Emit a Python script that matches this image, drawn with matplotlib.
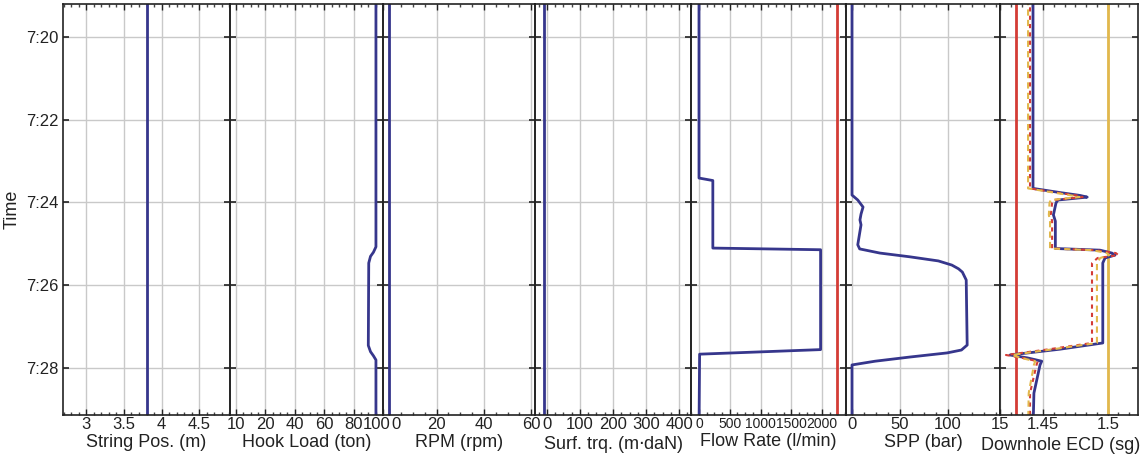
import numpy as np
import matplotlib
matplotlib.use("Agg")
import matplotlib.pyplot as plt
import matplotlib.transforms as mtransforms
from matplotlib.ticker import AutoMinorLocator, FixedLocator

plt.rcParams['font.family'] = ['Liberation Sans', 'DejaVu Sans']

# ---- data (time in minutes after 7:00) ----
t_const = [19.0, 29.5]
string_pos = [3.8, 3.8]
rpm = [0.0, 0.0]
surf_trq = [-8.0, -8.0]

t_hook = [19.0, 25.07, 25.20, 25.30, 25.46, 27.45, 27.60, 27.70, 27.80, 29.5]
hook_load = [95.2, 95.2, 93.5, 91.5, 90.3, 90.0, 91.5, 93.5, 95.2, 95.2]

t_flow = [19.0, 23.41, 23.47, 25.10, 25.14, 27.55, 27.66, 29.5]
flow = [0, 0, 225, 225, 1977, 1977, 10, 0]
flow_limit = 2240

t_spp = [19.0, 23.82, 23.94, 24.11, 24.28, 24.42, 24.54, 25.02, 25.12, 25.22,
         25.31, 25.41, 25.51, 25.60, 25.68, 25.87, 27.44, 27.56, 27.63, 27.73,
         27.83, 27.92, 29.5]
spp = [0, 0, 6, 11.5, 9.4, 8.3, 9.4, 6, 8, 29,
       60, 90, 104, 111, 115, 119, 120, 114, 99, 60,
       24, 0, 0]

t_ecd = [19.0, 23.66, 23.76, 23.83, 23.87, 23.94, 24.01, 24.3, 24.45, 25.11,
         25.15, 25.22, 25.27, 25.34, 25.46, 27.39, 27.54, 27.68, 27.75, 27.83,
         27.92, 28.60, 29.5]
ecd_meas = [1.4423, 1.4423, 1.463, 1.4785, 1.484, 1.4615, 1.460, 1.458, 1.4595, 1.4595,
            1.4938, 1.503, 1.5054, 1.4977, 1.496, 1.496, 1.463, 1.4246, 1.438, 1.449,
            1.4477, 1.443, 1.4423]
ecd_model1 = [1.4400, 1.4400, 1.460, 1.476, 1.4805, 1.458, 1.457, 1.456, 1.457, 1.457,
              1.490, 1.506, 1.508, 1.492, 1.4877, 1.4877, 1.455, 1.4215, 1.434, 1.446,
              1.445, 1.440, 1.4400]
ecd_model2 = [1.4385, 1.4385, 1.458, 1.472, 1.478, 1.456, 1.455, 1.4545, 1.4554, 1.4554,
              1.488, 1.499, 1.501, 1.494, 1.4915, 1.4915, 1.458, 1.426, 1.433, 1.444,
              1.443, 1.439, 1.4385]
ecd_low = 1.4292
ecd_high = 1.500

time_ticks = [20, 22, 24, 26, 28]
time_labels = ["7:20", "7:22", "7:24", "7:26", "7:28"]

track_labels = ["String Pos. (m)", "Hook Load (ton)", "RPM (rpm)",
                "Surf. trq. (m$\\cdot$daN)", "Flow Rate (l/min)", "SPP (bar)",
                "Downhole ECD (sg)"]
track_xlim = [(2.69, 4.91), (-4.1, 100.0), (-2.75, 61.65), (-36, 436),
              (-130, 2390), (-6.25, 154.2), (1.4169, 1.5231)]
track_ticks = [[3, 3.5, 4, 4.5], [0, 20, 40, 60, 80, 100], [0, 20, 40, 60],
               [0, 100, 200, 300, 400], [0, 500, 1000, 1500, 2000], [0, 50, 100],
               [1.4169, 1.45, 1.5]]
track_ticklabels = [["3", "3.5", "4", "4.5"], ["10", "20", "40", "60", "80", "100"],
                    ["0", "20", "40", "60"], ["0", "100", "200", "300", "400"],
                    ["0", "500", "1000", "1500", "2000"], ["0", "50", "100"],
                    ["15", "1.45", "1.5"]]
tick_size = [12, 12, 12, 12, 10, 12, 12]

BLUE = "#36368c"
RED = "#d43c36"
YELLOW = "#e2b84c"
GRID = "#c9c9c9"
TXT = "#222222"

W, H = 1144, 459
bounds = [63, 230, 383, 535, 691, 846, 1000, 1138]
top_px, bot_px = 4, 415

fig = plt.figure(figsize=(W / 100, H / 100), dpi=100)
axes = []
for i in range(7):
    x0, x1 = bounds[i], bounds[i + 1]
    ax = fig.add_axes([x0 / W, 1 - bot_px / H, (x1 - x0) / W, (bot_px - top_px) / H])
    ax.set_xlim(*track_xlim[i])
    ax.set_ylim(29.128, 19.21)
    ax.xaxis.set_major_locator(FixedLocator(track_ticks[i]))
    ax.set_xticklabels(track_ticklabels[i])
    ax.xaxis.set_minor_locator(AutoMinorLocator(4 if i != 0 else 5))
    ax.set_yticks(time_ticks)
    ax.grid(True, which='major', color=GRID, lw=1.0)
    ax.set_axisbelow(True)
    ax.tick_params(axis='x', which='major', direction='in', top=True, bottom=True,
                   length=4, width=1.0, labelsize=tick_size[i], pad=1.5, colors=TXT)
    ax.tick_params(axis='x', which='minor', direction='in', top=True, bottom=True,
                   length=2.5, width=1.0, color='#444444')
    ax.tick_params(axis='y', which='major', direction='in', left=True, right=True,
                   length=4, width=1.2, labelsize=12, pad=3, colors=TXT)
    if i == 0:
        ax.set_yticklabels(time_labels)
        ax.set_ylabel("Time", fontsize=13, color=TXT, labelpad=4)
    else:
        ax.set_yticklabels([])
    ax.set_xlabel(track_labels[i], fontsize=13, color=TXT, labelpad=1.5)
    for sp in ax.spines.values():
        sp.set_color(TXT)
        sp.set_linewidth(1.2)
    ax.patch.set_alpha(0)
    axes.append(ax)

# labels sitting on a shared border: "100" + "0" read as "1000" in the original
def nudge(lbl, dx_px, ha):
    lbl.set_ha(ha)
    lbl.set_transform(lbl.get_transform() +
                      mtransforms.ScaledTranslation(dx_px / 100, 0, fig.dpi_scale_trans))

nudge(axes[1].get_xticklabels()[-1], 7, 'right')
nudge(axes[2].get_xticklabels()[0], 1.5, 'left')
axes[6].xaxis.set_label_coords(0.44, -0.053)
axes[6].xaxis.label.set_va('top')

lw = 2.0
axes[0].plot(string_pos, t_const, color=BLUE, lw=lw)
axes[1].plot(hook_load, t_hook, color=BLUE, lw=lw)
axes[2].plot(rpm, t_const, color=BLUE, lw=lw)
axes[3].plot(surf_trq, t_const, color=BLUE, lw=lw)
axes[4].plot(flow, t_flow, color=BLUE, lw=lw)
axes[4].axvline(flow_limit, color=RED, lw=2.0)
axes[5].plot(spp, t_spp, color=BLUE, lw=lw)
axes[6].axvline(ecd_low, color=RED, lw=2.0)
axes[6].axvline(ecd_high, color=YELLOW, lw=2.0)
axes[6].plot(ecd_meas, t_ecd, color=BLUE, lw=lw)
axes[6].plot(ecd_model1, t_ecd, color=RED, lw=1.5, ls=(0, (2, 2)))
axes[6].plot(ecd_model2, t_ecd, color=YELLOW, lw=1.5, ls=(0, (3, 2)))

fig.savefig("out.png", dpi=100, facecolor='white')
